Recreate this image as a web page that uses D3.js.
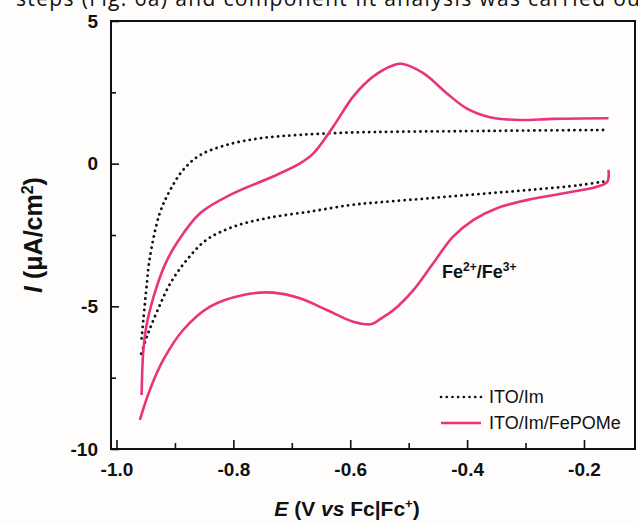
<!DOCTYPE html>
<html>
<head>
<meta charset="utf-8">
<script src="https://cdn.jsdelivr.net/npm/d3@7"></script>
<style>
  html, body { margin: 0; padding: 0; background: #fefdfb; }
  svg { display: block; }
</style>
</head>
<body>
<div id="chart"></div>
<script>
// ITO/Im/FePOMe, forward (upper) branch  [E, I]
const feUpper = [[-0.957,-8.11],[-0.954,-6.53],[-0.948,-5.6],[-0.931,-4.3],[-0.915,-3.45],[-0.897,-2.79],
  [-0.857,-1.74],[-0.800,-1.04],[-0.732,-0.45],[-0.686,0.01],[-0.663,0.36],[-0.629,1.30],[-0.595,2.35],
  [-0.561,3.05],[-0.526,3.45],[-0.512,3.50],[-0.475,3.17],[-0.435,2.47],[-0.401,1.94],[-0.361,1.63],
  [-0.310,1.53],[-0.253,1.57],[-0.158,1.59]];
// ITO/Im/FePOMe, return (lower) branch
const feLower = [[-0.158,-0.22],[-0.160,-0.63],[-0.178,-0.81],[-0.230,-1.02],[-0.292,-1.25],[-0.349,-1.56],
  [-0.389,-1.97],[-0.424,-2.56],[-0.458,-3.49],[-0.492,-4.43],[-0.526,-5.13],[-0.549,-5.45],[-0.563,-5.62],
  [-0.595,-5.54],[-0.640,-5.13],[-0.686,-4.72],[-0.732,-4.52],[-0.783,-4.60],[-0.840,-5.01],[-0.886,-5.83],
  [-0.920,-6.88],[-0.943,-7.93],[-0.960,-8.98]];
// ITO/Im, forward branch
const imUpper = [[-0.957,-6.12],[-0.954,-5.48],[-0.948,-4.19],[-0.943,-3.3],[-0.926,-1.74],[-0.908,-0.92],
  [-0.886,-0.22],[-0.857,0.30],[-0.811,0.66],[-0.754,0.89],[-0.686,1.01],[-0.600,1.09],[-0.515,1.12],
  [-0.400,1.14],[-0.300,1.16],[-0.167,1.18]];
// ITO/Im, return branch
const imLower = [[-0.167,-0.63],[-0.207,-0.75],[-0.292,-0.92],[-0.378,-1.06],[-0.464,-1.21],[-0.549,-1.35],
  [-0.600,-1.45],[-0.669,-1.68],[-0.743,-1.91],[-0.800,-2.21],[-0.846,-2.67],[-0.880,-3.38],[-0.908,-4.2],
  [-0.931,-5.2],[-0.948,-6.06],[-0.960,-6.82]];

const xMajor = [-1.0, -0.8, -0.6, -0.4, -0.2];
const xMinor = [-0.9, -0.7, -0.5, -0.3];
const yMajor = [5, 0, -5, -10];
const yMinor = [2.5, -2.5, -7.5];
const legendNames = ['ITO/Im', 'ITO/Im/FePOMe'];

const width = 638, height = 524;
const plot = {left: 111, right: 635, top: 21, bottom: 449};
const pink = '#e8347c';
const font = 'Liberation Sans, Arial, sans-serif';

const svg = d3.select('#chart').append('svg')
  .attr('width', width).attr('height', height)
  .style('background', '#fefdfb');

// text of the page above the figure (cut off)
svg.append('text')
  .attr('x', 16).attr('y', 6)
  .attr('font-family', 'Open Sans, sans-serif')
  .attr('font-size', 21)
  .attr('fill', '#111')
  .attr('textLength', 624).attr('lengthAdjust', 'spacing')
  .text('steps (Fig. 6a) and component fit analysis was carried ou');

const x = d3.scaleLinear().domain([-1.0094, -0.1127]).range([plot.left, plot.right]);
const y = d3.scaleLinear().domain([-10, 5]).range([plot.bottom, plot.top]);

// frame
svg.append('rect')
  .attr('x', plot.left).attr('y', plot.top)
  .attr('width', plot.right - plot.left).attr('height', plot.bottom - plot.top)
  .attr('fill', 'none').attr('stroke', '#111').attr('stroke-width', 2);

// bottom axis
const xAxis = svg.append('g').attr('transform', `translate(0,${plot.bottom})`)
  .call(d3.axisBottom(x).tickValues(xMajor).tickSize(-9).tickPadding(9)
    .tickFormat(d => d.toFixed(1)));
svg.append('g').attr('transform', `translate(0,${plot.bottom})`)
  .call(d3.axisBottom(x).tickValues(xMinor).tickSize(-6).tickFormat(''));

// left axis
const yAxis = svg.append('g').attr('transform', `translate(${plot.left},0)`)
  .call(d3.axisLeft(y).tickValues(yMajor).tickSize(-8).tickPadding(13)
    .tickFormat(d => String(d)));
svg.append('g').attr('transform', `translate(${plot.left},0)`)
  .call(d3.axisLeft(y).tickValues(yMinor).tickSize(-5).tickFormat(''));

svg.selectAll('.domain').remove();
svg.selectAll('.tick line').attr('stroke', '#111').attr('stroke-width', 1.6);
svg.selectAll('.tick text')
  .attr('font-family', font).attr('font-size', 19).attr('font-weight', 'bold').attr('fill', '#111');
xAxis.selectAll('.tick text').attr('dy', '0.95em');

// curves
const line = d3.line().x(d => x(d[0])).y(d => y(d[1])).curve(d3.curveCatmullRom);

[imUpper, imLower].forEach(branch => {
  svg.append('path').datum(branch)
    .attr('d', line)
    .attr('fill', 'none').attr('stroke', '#111')
    .attr('stroke-width', 2.8).attr('stroke-linecap', 'round')
    .attr('stroke-dasharray', '0.1 5.6');
});
[feUpper, feLower].forEach(branch => {
  svg.append('path').datum(branch)
    .attr('d', line)
    .attr('fill', 'none').attr('stroke', pink)
    .attr('stroke-width', 2.6).attr('stroke-linejoin', 'round');
});

// annotation
const ann = svg.append('text')
  .attr('x', 442).attr('y', 278)
  .attr('font-family', font).attr('font-size', 18).attr('font-weight', 'bold').attr('fill', '#111');
ann.append('tspan').text('Fe');
ann.append('tspan').attr('dy', -7).attr('font-size', 12).text('2+');
ann.append('tspan').attr('dy', 7).text('/Fe');
ann.append('tspan').attr('dy', -7).attr('font-size', 12).text('3+');

// legend
const legend = svg.append('g');
legendNames.forEach((name, i) => {
  const ly = 397 + i * 26;
  legend.append('line')
    .attr('x1', 441).attr('x2', 481).attr('y1', ly).attr('y2', ly)
    .attr('stroke', i === 0 ? '#111' : pink)
    .attr('stroke-width', 2.6)
    .attr('stroke-linecap', i === 0 ? 'round' : 'butt')
    .attr('stroke-dasharray', i === 0 ? '0.1 5.6' : null);
  legend.append('text')
    .attr('x', 489).attr('y', ly).attr('dy', '0.36em')
    .attr('font-family', font).attr('font-size', 18).attr('fill', '#111')
    .text(name);
});

// y label
const yl = svg.append('text')
  .attr('transform', 'translate(42,235) rotate(-90)')
  .attr('text-anchor', 'middle')
  .attr('font-family', font).attr('font-size', 25).attr('font-weight', 'bold').attr('fill', '#111');
yl.append('tspan').attr('font-style', 'italic').text('I');
yl.append('tspan').text(' (\u03bcA/cm');
yl.append('tspan').attr('dy', -9).attr('font-size', 16).text('2');
yl.append('tspan').attr('dy', 9).text(')');

// x label
const xl = svg.append('text')
  .attr('x', 347).attr('y', 516)
  .attr('text-anchor', 'middle')
  .attr('font-family', font).attr('font-size', 21).attr('font-weight', 'bold').attr('fill', '#111');
xl.append('tspan').attr('font-style', 'italic').text('E');
xl.append('tspan').text(' (V ');
xl.append('tspan').attr('font-style', 'italic').text('vs');
xl.append('tspan').text(' Fc|Fc');
xl.append('tspan').attr('dy', -8).attr('font-size', 13).text('+');
xl.append('tspan').attr('dy', 8).text(')');
</script>
</body>
</html>
